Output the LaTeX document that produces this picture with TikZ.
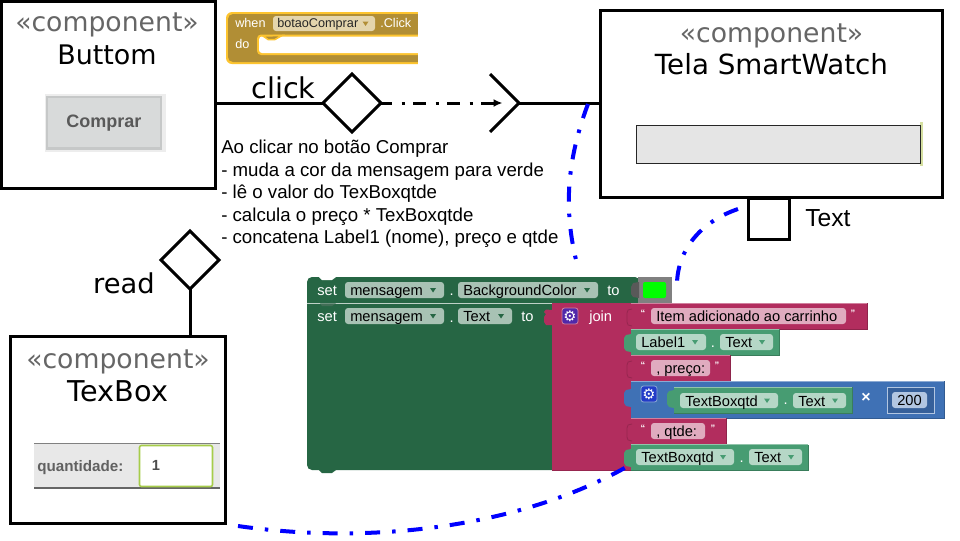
\documentclass[tikz,border=0pt]{standalone}
\usepackage{fontspec}
\setmainfont{Liberation Sans}
\newfontfamily\djv{DejaVu Sans}
\usetikzlibrary{arrows.meta,shapes.geometric,calc}
\def\px{0.75pt}
\definecolor{dgreen}{HTML}{266644}
\definecolor{dfield}{HTML}{A8C2B4}
\definecolor{mag}{HTML}{B22D5E}
\definecolor{magd}{HTML}{97264F}
\definecolor{pfield}{HTML}{E0ABBF}
\definecolor{lgreen}{HTML}{479C72}
\definecolor{lfield}{HTML}{B5D7C6}
\definecolor{blk}{HTML}{3F71B5}
\definecolor{bfield}{HTML}{B2C6E1}
\definecolor{gold}{HTML}{B18E35}
\definecolor{goldl}{HTML}{FDC42F}
\definecolor{gfield}{HTML}{E4D5AC}
\definecolor{uml}{HTML}{666666}
\definecolor{gearp}{HTML}{5028AA}
\definecolor{gearb}{HTML}{233CC8}
\definecolor{inpg}{HTML}{A6CC4A}
\definecolor{yelg}{HTML}{D5DFA0}
\definecolor{btnb}{HTML}{C6C8C8}
\definecolor{btnf}{HTML}{D8DADA}
\tikzset{
 compbox/.style 2 args={draw=black,line width=3*\px,fill=white,minimum width=#1*\px,minimum height=#2*\px,inner sep=0pt,outer sep=0pt},
 stereo/.style={font=\djv\fontsize{20pt}{22pt}\selectfont,text=uml,inner sep=0pt},
 cname/.style={font=\djv\fontsize{#1pt}{22pt}\selectfont,text=black,inner sep=0pt},
 rel/.style={font=\djv\fontsize{#1pt}{22pt}\selectfont,inner sep=0pt},
 umlline/.style={draw=black,line width=3*\px},
 choice/.style={diamond,aspect=1,draw=black,fill=white,line width=3*\px,minimum width=58*\px,minimum height=58*\px,inner sep=0pt,outer sep=0pt},
 bluedash/.style={draw=blue,line width=4*\px,dash pattern=on 15*\px off 12*\px on 3.5*\px off 12*\px},
 bt/.style={font=\fontsize{11pt}{13pt}\selectfont,inner sep=0pt,text=#1},
 bt/.default=black,
 gearic/.style={font=\djv\fontsize{11pt}{11pt}\selectfont,text=white,inner sep=0pt},
 goldtxt/.style={font=\fontsize{9.5pt}{12pt}\selectfont,inner sep=0pt,text=#1,anchor=base west},
}
% field: x1 x2 y1 y2 fill text
\newcommand\fld[6]{\fill[#5,rounded corners=3*\px] (#1,#3) rectangle (#2,#4);
 \node[bt,anchor=base west] at (#1+5,{(#3+#4)/2+5.5}) {#6};}
\newcommand\ddn[3]{\fill[#3] (#1-3,#2-2) -- (#1+3,#2-2) -- (#1,#2+2.5) -- cycle;}
\newcommand\blockrow[5]{\fill[#5] (#1,#3) rectangle (#2,#4);
 \draw[#5!80!black,line width=1*\px] (#1,#4) -- (#2,#4) -- (#2,#3);
 \draw[#5!60!white,line width=.6*\px] (#1,#3) -- (#2,#3);}
\newcommand\tabb[3]{\fill[#3] (#1,#2) -- ++(-5,1) -- ++(-2,3) -- ++(0,10) -- ++(2,3) -- ++(5,1) -- cycle;}
\newcommand\slt[3]{\draw[#3,line width=.8*\px] (#1,#2) -- ++(-4,1) -- ++(-1,3) -- ++(0,9) -- ++(1,3) -- ++(4,1);}
\begin{document}
\begin{tikzpicture}[x=\px,y=-\px]
\useasboundingbox[fill=white] (0,0) rectangle (960,540);
% === component boxes ===
\node[compbox={214}{187},anchor=north west] (buttom) at (1.5,1.5) {};
\node[compbox={342}{187},anchor=north west] (tela) at (600.5,10.5) {};
\node[compbox={215}{187},anchor=north west] (texbox) at (10.5,336.5) {};
\node[compbox={41}{41},anchor=north west] (port) at (748.5,198.5) {};
\node[stereo,anchor=base] (s1) at (107,31) {«component»};
\node[cname=20.2,anchor=base] (n1) at (107,64) {Buttom};
\node[stereo,anchor=base] (s2) at (771.5,42) {«component»};
\node[cname=20.8,anchor=base] (n2) at (771.5,74) {Tela SmartWatch};
\node[stereo,anchor=base] (s3) at (118,368) {«component»};
\node[cname=21.5,anchor=base] (n3) at (118,401) {TexBox};
\node[font=\fontsize{18.5pt}{20pt}\selectfont,inner sep=0pt,anchor=base west] (ptxt) at (805,226) {Text};
% button image
\fill[black!7] (45,94) rectangle (166,152);
\fill[btnb] (46,96) rectangle (162,150);
\fill[btnf] (48,98) rectangle (160,147);
\node[font=\fontsize{13.5pt}{15pt}\selectfont\bfseries,text=black!65,inner sep=0pt,anchor=base] (cmp) at (104,127) {Comprar};
% tela field
\fill[yelg] (920,122) rectangle (923,166);
\node[draw=black!85,fill=black!10,line width=1*\px,outer sep=0pt,minimum width=284*\px,minimum height=38*\px,inner sep=0pt,anchor=north west] (tf) at (636.5,125) {};
% texbox image
\fill[black!9] (34,443) rectangle (220,489);
\draw[gray,line width=1*\px] (34,443.5) -- (220,443.5);
\draw[black!60,line width=2*\px] (34,488) -- (220,488);
\node[draw=inpg,fill=white,line width=1.6*\px,rounded corners=1.5,outer sep=0pt,minimum width=73*\px,minimum height=41*\px,inner sep=0pt,anchor=north west] (inp) at (139.5,445.5) {};
\node[font=\fontsize{11pt}{13pt}\selectfont\bfseries,text=black!70,inner sep=0pt] (one) at (156,465) {1};
\node[font=\fontsize{11.4pt}{13pt}\selectfont\bfseries,text=black!62,inner sep=0pt,anchor=base west] (qt) at (37,471) {quantidade:};
% === gold block ===
\fill[goldl,rounded corners=6*\px] (226,12) rectangle (430,64);
\fill[gold,rounded corners=5*\px] (228,14) rectangle (430,62);
\fill[white] (418,0) rectangle (435,70);
\fill[goldl,rounded corners=4*\px] (257,34.5) rectangle (430,55);
\fill[white,rounded corners=3*\px] (259,36.5) rectangle (430,53);
\fill[white] (418,30) rectangle (435,70);
\fill[gold,draw=goldl,line width=1.5*\px] (263,36) -- (268,39.5) -- (275,39.5) -- (282,35.5) -- cycle;
\fill[gfield,rounded corners=3*\px] (273,16) rectangle (375,31);
\node[goldtxt=white] (bw) at (235,27) {when};
\node[goldtxt=black!85] (bb) at (277,27) {botaoComprar};
\node[goldtxt=white] (bc) at (380,27) {.Click};
\node[goldtxt=white] (bd) at (235,48) {do};
\ddn{365.5}{23.5}{gold}
% === connectors and relation labels ===
\node[choice] (d1) at (352,103) {};
\node[choice] (d2) at (190,260) {};
\node[rel=21.5,anchor=base] (click) at (283.5,98) {click};
\node[rel=20.5,anchor=base] (read) at (124,293) {read};
\coordinate (ch) at (519,103);
\coordinate (cha) at (490,74);
\coordinate (chb) at (490,132);
\coordinate (dt) at (502.5,103);
\draw[umlline] (buttom.east |- d1) -- (d1.west);
\draw[umlline] (d2.south) -- (d2.south |- texbox.north);
\draw[umlline] (cha) -- (ch) -- (chb);
\draw[umlline] (ch) -- (tela.west |- ch);
\draw[draw=black,line width=3*\px,dash pattern=on 13*\px off 9.5*\px on 3*\px off 8.5*\px,dash phase=2*\px,-{Latex[length=9*\px,width=8*\px]}] (d1.east) -- (dt);
% text
\node[font=\fontsize{14pt}{16.85pt}\selectfont,align=left,inner sep=0pt,anchor=north west] (note) at (221,140) {Ao clicar no botão Comprar\\- muda a cor da mensagem para verde\\- lê o valor do TexBoxqtde\\- calcula o preço * TexBoxqtde\\- concatena Label1 (nome), preço e qtde};
% === code blocks ===
\fill[dgreen,rounded corners=5*\px] (307,277) rectangle (640,320);
\fill[white] (540,303) rectangle (645,322);
\fill[dgreen,rounded corners=5*\px] (307,303) rectangle (560,470);
\fill[white] (552,303) rectangle (562,472);
\fill[dgreen] (400,295) rectangle (552,310);
\fill[white] (319,277) -- (322,280) -- (332,280) -- (336,277) -- cycle;
\fill[dgreen] (319,470) -- (322,473) -- (332,473) -- (336,470) -- cycle;
\draw[white!70!dgreen,line width=.7*\px] (307,303) -- (552,303);
\fill[dgreen!70!gray] (320,303.4) -- (322,306) -- (332,306) -- (336,303.4) -- cycle;
\fill[mag] (552,303) rectangle (632,470);
\draw[magd,line width=.7*\px] (552,470) -- (632,470);
\fill[mag] (552,310) -- (546,309.5) -- (544,312) -- (546,314) -- (544,317) -- (544,322) -- (546,325) -- (552,325) -- cycle;
% first row
\fld{345}{444}{282}{298}{dfield}{mensagem}\ddn{433}{290}{dgreen}
\node[bt=white] (dot1) at (451.7,295) {.};
\fld{458}{598}{282}{298}{dfield}{BackgroundColor}\ddn{587}{290}{dgreen}
\node[bt=white,anchor=base west] (set1) at (317,295) {set};
\node[bt=white,anchor=base west] (to1) at (607,295) {to};
\fill[gray] (638,277) rectangle (672,303);
\fill[gray!70!black] (639,282) -- (633,283) -- (631,287) -- (631,294) -- (633,297) -- (639,298) -- cycle;
\fill[green,rounded corners=2*\px] (643,282) rectangle (666,298);
% second row
\fld{345}{444}{308}{324}{dfield}{mensagem}\ddn{433}{316}{dgreen}
\node[bt=white] (dot2) at (451.7,321.5) {.};
\fld{458}{512}{308}{324}{dfield}{Text}\ddn{501}{316}{dgreen}
\node[bt=white,anchor=base west] (set2) at (317,321) {set};
\node[bt=white,anchor=base west] (to2) at (521,321) {to};
\fill[gearp,draw=mag!60!white,line width=.8*\px,rounded corners=2.5*\px] (562,308) rectangle (578,324);
\node[gearic] (g1) at (570,316) {⚙};
\node[bt=white,anchor=base west] (join) at (589,321) {join};
% item rows
\newcommand\qul[2]{\node[font=\fontsize{7pt}{8pt}\selectfont\bfseries,text=white,inner sep=0pt] at (#1,#2) {“};}
\newcommand\qur[2]{\node[font=\fontsize{7pt}{8pt}\selectfont\bfseries,text=white,inner sep=0pt] at (#1,#2) {”};}
\blockrow{631}{867}{303}{329}{mag}
\fld{651}{846}{308}{324}{pfield}{Item adicionado ao carrinho}
\qul{643}{313}\qur{853}{313}
\blockrow{631}{779}{329}{355}{lgreen}
\tabb{631}{334}{lgreen}
\fld{636}{706}{334}{350}{lfield}{Label1}\ddn{695}{342}{lgreen}
\node[bt=white] (dot3) at (713,346.5) {.};
\fld{720}{773}{334}{350}{lfield}{Text}\ddn{762}{342}{lgreen}
\blockrow{631}{730}{355}{381}{mag}
\fld{651}{710}{360}{376}{pfield}{, preço:}
\qul{643}{365}\qur{717}{365}
\blockrow{631}{944}{381}{418}{blk}
\tabb{631}{389}{blk}
\fill[gearb,draw=blk!60!white,line width=.8*\px,rounded corners=2.5*\px] (641,386) rectangle (657,402);
\node[gearic] (g2) at (649,394) {⚙};
\blockrow{674}{852}{387}{413}{lgreen}
\tabb{674}{390}{lgreen}
\fld{680}{778}{393}{408}{lfield}{TextBoxqtd}\ddn{767}{400.5}{lgreen}
\node[bt=white] (dot4) at (785.7,404) {.};
\fld{793}{846}{393}{408}{lfield}{Text}\ddn{835}{400.5}{lgreen}
\node[font=\fontsize{12pt}{12pt}\selectfont\bfseries,text=white,inner sep=0pt] (times) at (866,398) {×};
\fill[blk!85!black] (887,387) rectangle (934,413);
\draw[white!60!blk,line width=.6*\px] (887,387) rectangle (934,413);
\fld{892}{927}{392}{408}{bfield}{200}
\blockrow{631}{726}{418}{444}{mag}
\fld{651}{705}{423}{439}{pfield}{, qtde:}
\qul{643}{428}\qur{713}{428}
\blockrow{631}{808}{444.5}{470}{lgreen}
\tabb{631}{449}{lgreen}
\fld{636}{734}{449}{465}{lfield}{TextBoxqtd}\ddn{723}{457}{lgreen}
\node[bt=white] (dot5) at (741.7,461.7) {.};
\fld{749}{802}{449}{465}{lfield}{Text}\ddn{791}{457}{lgreen}
\slt{632}{309}{magd}
\slt{632}{361}{magd}
\slt{632}{424}{magd}
% === blue links ===
\coordinate (b1a) at (588,104);
\coordinate (b1b) at (577,264);
\coordinate (b2a) at (738,209);
\coordinate (b2b) at (677,283);
\coordinate (b3a) at (238,526);
\coordinate (b3b) at (630,465);
\draw[bluedash] (b1a) .. controls (563,170) and (566,220) .. (b1b);
\draw[bluedash] (b2a) .. controls (700,222) and (678,250) .. (b2b);
\draw[bluedash] (b3a) .. controls (370,545) and (520,528) .. (b3b);
\end{tikzpicture}
\end{document}
